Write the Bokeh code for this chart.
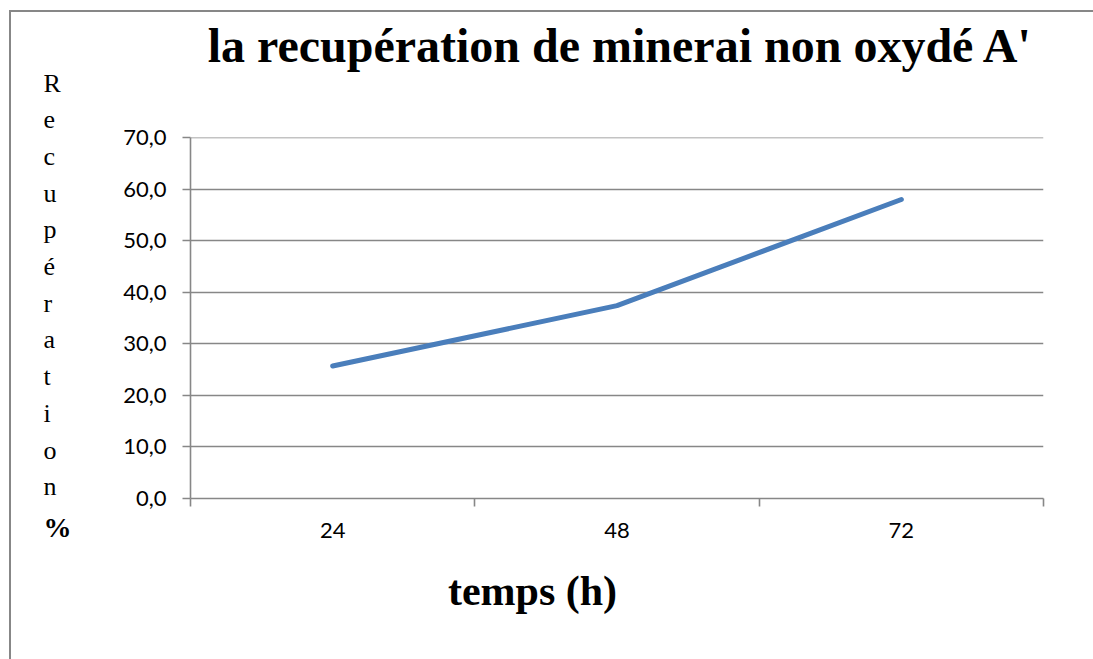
from bokeh.plotting import figure
from bokeh.models import (FixedTicker, LinearAxis, CategoricalAxis, Label,
                          CustomJSTickFormatter, Range1d)
from bokeh.embed import file_html
from bokeh.resources import INLINE

# ---- data ----
categories = ["24", "48", "72"]
recuperation = [25.7, 37.4, 58.0]
y_ticks = [0, 10, 20, 30, 40, 50, 60, 70]
title_text = "la recupération de minerai non oxydé A'"
x_label = "temps (h)"
y_letters = ["R", "e", "c", "u", "p", "é", "r", "a", "t", "i", "o", "n"]
y_unit = "%"

GRAY = "#878787"
BLUE = "#4a7ebb"
TICK_FONT = "Lato"
SERIF = "Liberation Serif"

p = figure(x_range=categories, y_range=Range1d(0, 70.02), width=1093, height=659,
           output_backend="svg", toolbar_location=None,
           x_axis_location=None,
           min_border_left=190, min_border_right=50,
           min_border_top=137, min_border_bottom=161)
p.outline_line_color = None
p.background_fill_color = "white"
p.border_fill_color = None
# chart-area border: left and top edges (CSS backgrounds of the host element)
p.styles = {
    "background": ("linear-gradient(#878787,#878787) 9px 10px / 2px 100% no-repeat, "
                   "linear-gradient(#878787,#878787) 9px 10px / 100% 2px no-repeat, white"),
}
p.xgrid.grid_line_color = None

# y axis & grid
p.yaxis.ticker = FixedTicker(ticks=y_ticks)
p.yaxis.formatter = CustomJSTickFormatter(code="return tick.toFixed(1).replace('.', ',');")
p.yaxis.axis_line_color = GRAY
p.yaxis.axis_line_width = 1.6
p.yaxis.major_tick_line_color = GRAY
p.yaxis.major_tick_line_width = 1.6
p.yaxis.major_tick_out = 8
p.yaxis.major_tick_in = 0
p.yaxis.minor_tick_line_color = None
p.yaxis.major_label_text_font = TICK_FONT
p.yaxis.major_label_text_font_size = "22px"
p.yaxis.major_label_text_color = "black"
p.yaxis.major_label_standoff = 16
p.ygrid.grid_line_color = GRAY
p.ygrid.grid_line_width = 1.6

# x axis: boundary tick marks between categories
tick_axis = LinearAxis(ticker=FixedTicker(ticks=list(range(len(categories) + 1))),
                       formatter=CustomJSTickFormatter(code="return '';"))
tick_axis.axis_line_color = GRAY
tick_axis.axis_line_width = 1.6
tick_axis.major_tick_line_color = GRAY
tick_axis.major_tick_line_width = 1.6
tick_axis.major_tick_out = 8
tick_axis.major_tick_in = 0
tick_axis.minor_tick_line_color = None
tick_axis.major_label_standoff = 0
tick_axis.major_label_text_font_size = "1px"
p.add_layout(tick_axis, "below")

cat_axis = CategoricalAxis()
cat_axis.axis_line_color = None
cat_axis.major_tick_line_color = None
cat_axis.major_tick_out = 0
cat_axis.major_tick_in = 0
cat_axis.major_label_text_font = TICK_FONT
cat_axis.major_label_text_font_size = "22px"
cat_axis.major_label_text_color = "black"
cat_axis.major_label_standoff = 16
p.add_layout(cat_axis, "below")

# data line
p.line(x=categories, y=recuperation, line_width=5, line_color=BLUE,
       line_cap="round", line_join="round")

# texts: placed in side panels (so not clipped to the frame), positioned in canvas units
def make_text(txt, x, y, size, bold=False, align="left", baseline="alphabetic", lh=1.2):
    return Label(x=x, y=y, x_units="canvas", y_units="canvas",
                 text=txt, text_font=SERIF,
                 text_font_style="bold" if bold else "normal",
                 text_font_size=size, text_align=align,
                 text_baseline=baseline, text_line_height=lh,
                 text_color="black")

p.add_layout(make_text(title_text, 620, 45, "48px", bold=True, align="center"), "above")
p.add_layout(make_text(x_label, 532, 590, "42px", bold=True, align="center"), "below")
p.add_layout(make_text("\n".join(y_letters), 43, 68, "26px", baseline="top",
                       lh=1.266), "left")
p.add_layout(make_text(y_unit, 43, 527, "28px", bold=True), "left")

open("out.html", "w").write(file_html(p, INLINE))
